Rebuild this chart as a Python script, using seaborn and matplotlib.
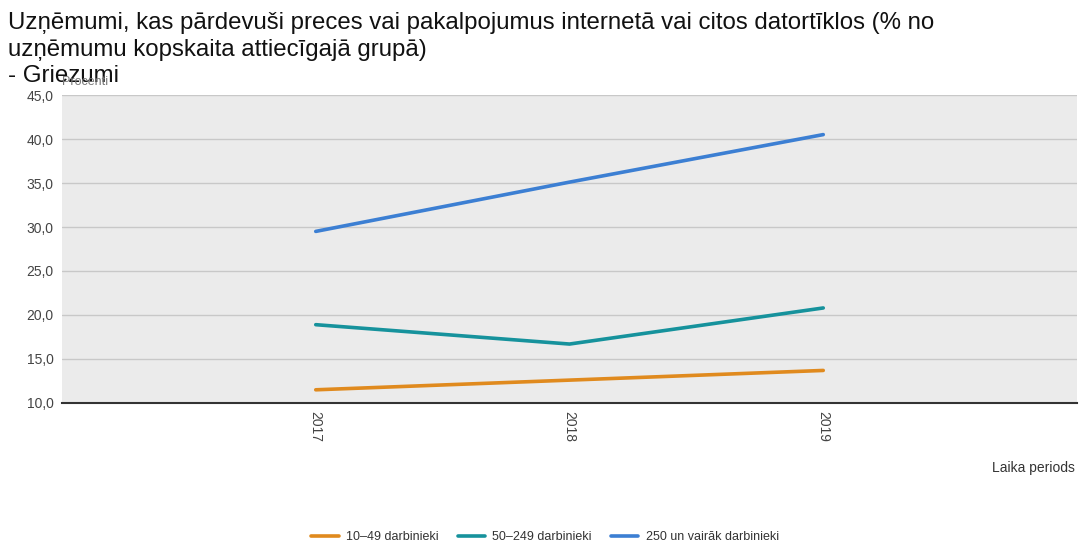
import pandas as pd
import matplotlib.pyplot as plt
import seaborn as sns

# =====================================
# DATA
# =====================================

years = ["2017", "2018", "2019"]
small = [11.5, 12.6, 13.7]
medium = [18.9, 16.7, 20.8]
large = [29.5, 35.1, 40.5]
series_names = ["10–49 darbinieki", "50–249 darbinieki", "250 un vairāk darbinieki"]
colors = ["#E08A1E", "#16929C", "#3C7FD3"]
y_ticks = [10, 15, 20, 25, 30, 35, 40, 45]

rows = []
for name, vals in zip(series_names, [small, medium, large]):
    for i, v in enumerate(vals):
        rows.append({"pos": i, "year": years[i], "value": v, "series": name})
df = pd.DataFrame(rows)

# =====================================
# PLOT
# =====================================

sns.set_style("white")
plt.rcParams["font.family"] = ["Liberation Sans", "DejaVu Sans"]

fig = plt.figure(figsize=(10.79, 5.43), dpi=100)
ax = fig.add_axes([62 / 1079, 1 - 403 / 543, (1077 - 62) / 1079, (403 - 95) / 543])
ax.set_facecolor("#EBEBEB")

sns.lineplot(
    data=df, x="pos", y="value", hue="series",
    palette=colors, linewidth=2.6, ax=ax, legend=False
)

ax.set_xlim(-1, 3)
ax.set_ylim(10, 45)
ax.set_yticks(y_ticks)
ax.set_yticklabels([f"{t:.1f}".replace(".", ",") for t in y_ticks],
                   fontsize=10, color="#444444")
ax.set_xticks(range(len(years)))
ax.set_xticklabels(years, rotation=-90, fontsize=10, color="#444444")
ax.tick_params(axis="both", length=0, pad=6)
ax.grid(axis="y", color="#C8C8C8", linewidth=1)
ax.set_axisbelow(True)
for s in ["top", "right", "left"]:
    ax.spines[s].set_visible(False)
ax.spines["bottom"].set_color("#333333")
ax.spines["bottom"].set_linewidth(1.5)
ax.set_xlabel("")
ax.set_ylabel("")

fig.text(8 / 1079, 1 - 12 / 543,
         "Uzņēmumi, kas pārdevuši preces vai pakalpojumus internetā vai citos datortīklos (% no\n"
         "uzņēmumu kopskaita attiecīgajā grupā)\n- Griezumi",
         fontsize=17.3, va="top", ha="left", color="#111111", linespacing=1.27)
fig.text(62 / 1079, 1 - 82 / 543, "Procenti", fontsize=9, color="#777777",
         va="center", ha="left")
fig.text(1075 / 1079, 1 - 468 / 543, "Laika periods", fontsize=10,
         color="#333333", ha="right", va="center")

handles = [plt.Line2D([], [], color=c, linewidth=2.6) for c in colors]
fig.legend(handles, series_names, loc="center", bbox_to_anchor=(545 / 1079, 1 - 537 / 543),
           ncol=3, frameon=False, fontsize=9, handlelength=2.2, columnspacing=1.5,
           handletextpad=0.6, labelcolor="#333333")

plt.savefig("out.png", dpi=100)
